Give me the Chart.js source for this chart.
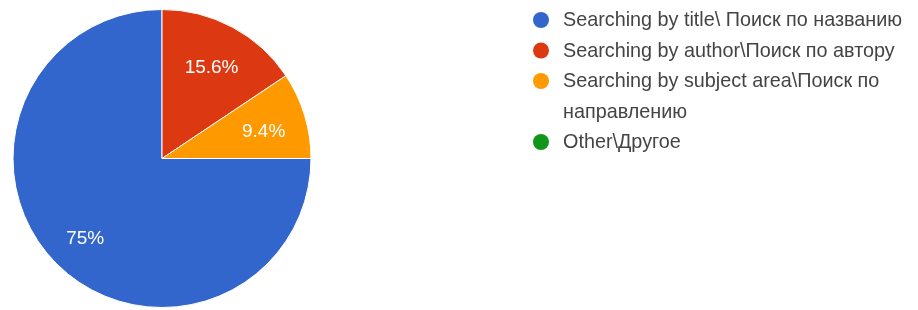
<!DOCTYPE html>
<html>
<head>
<meta charset="utf-8">
<script src="https://cdn.jsdelivr.net/npm/chart.js@4/dist/chart.umd.min.js"></script>
<style>
    html, body { margin: 0; padding: 0; background: #fff; }
    #wrap { width: 918px; height: 310px; position: relative; }
</style>
</head>
<body>
<div id="wrap"><canvas id="pieChart"></canvas></div>
<script>
// Survey answers (32 responses)
const categories = [
    'Searching by title\\ Поиск по названию',
    'Searching by author\\Поиск по автору',
    ['Searching by subject area\\Поиск по', 'направлению'],
    'Other\\Другое'
];
const responses = [24, 5, 3, 0];
const sliceColors = ['#3366cc', '#dc3912', '#ff9900', '#109618'];

const FONT = '"Liberation Sans", Arial, sans-serif';

/**
 * Percent labels inside the slices
 */
const sliceLabels = {
    id: 'sliceLabels',
    afterDatasetsDraw(chart) {
        const ctx = chart.ctx;
        const meta = chart.getDatasetMeta(0);
        const values = chart.data.datasets[0].data;
        const total = values.reduce((a, b) => a + b, 0);
        ctx.save();
        ctx.fillStyle = '#ffffff';
        ctx.font = '19px ' + FONT;
        ctx.textAlign = 'center';
        ctx.textBaseline = 'middle';
        meta.data.forEach((arc, i) => {
            if (!values[i]) return;
            const p = arc.getProps(['x', 'y', 'startAngle', 'endAngle', 'outerRadius'], true);
            const mid = (p.startAngle + p.endAngle) / 2;
            const r = p.outerRadius * 0.72;
            const pct = Math.round(values[i] / total * 1000) / 10;
            ctx.fillText(pct + '%', p.x + Math.cos(mid) * r - 1, p.y + Math.sin(mid) * r + 4);
        });
        ctx.restore();
    }
};

/**
 * Legend on the right with round markers and wrapped labels
 */
const sideLegend = {
    id: 'sideLegend',
    afterDraw(chart) {
        const ctx = chart.ctx;
        const labels = chart.data.labels;
        const colors = chart.data.datasets[0].backgroundColor;
        const markerX = 541;
        const textX = 563;
        const lineH = 30.5;
        let y = 20;
        ctx.save();
        ctx.font = '19.8px ' + FONT;
        ctx.textBaseline = 'middle';
        labels.forEach((label, i) => {
            ctx.fillStyle = colors[i];
            ctx.beginPath();
            ctx.arc(markerX, y, 8, 0, Math.PI * 2);
            ctx.fill();
            ctx.fillStyle = '#444444';
            const lines = Array.isArray(label) ? label : [label];
            lines.forEach(line => {
                ctx.fillText(line, textX, y + 1);
                y += lineH;
            });
        });
        ctx.restore();
    }
};

new Chart(document.getElementById('pieChart'), {
    type: 'pie',
    data: {
        labels: categories,
        datasets: [{
            data: responses,
            backgroundColor: sliceColors,
            borderColor: '#ffffff',
            borderWidth: 1
        }]
    },
    options: {
        responsive: true,
        maintainAspectRatio: false,
        animation: false,
        rotation: 90,
        layout: {
            padding: { left: 12, top: 9, bottom: 2, right: 606 }
        },
        plugins: {
            legend: { display: false },
            tooltip: { enabled: false }
        }
    },
    plugins: [sliceLabels, sideLegend]
});
</script>
</body>
</html>
